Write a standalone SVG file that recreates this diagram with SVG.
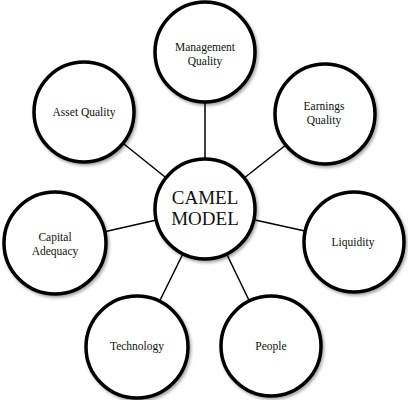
<svg xmlns="http://www.w3.org/2000/svg" width="408" height="400" viewBox="0 0 408 400">
<style>
.n{fill:#fff;stroke:#000;stroke-width:3.5;filter:url(#sh)}
.t{font-family:"Liberation Serif","DejaVu Serif",serif;font-size:11.5px;fill:#111;text-anchor:middle}
.big{font-size:19px}
.c{stroke:#000;stroke-width:1.5}
</style>
<defs>
<filter id="sh" x="-20%" y="-20%" width="140%" height="140%">
<feDropShadow dx="1.5" dy="2" stdDeviation="1.5" flood-color="#000" flood-opacity="0.35"/>
</filter>
</defs>
<rect width="408" height="400" fill="#fff"/>
<g id="connectors">
<line class="c" x1="205" y1="209" x2="205" y2="52"/>
<line class="c" x1="205" y1="209" x2="84" y2="112"/>
<line class="c" x1="205" y1="209" x2="325" y2="114"/>
<line class="c" x1="205" y1="209" x2="55" y2="243"/>
<line class="c" x1="205" y1="209" x2="355" y2="242"/>
<line class="c" x1="205" y1="209" x2="137" y2="347"/>
<line class="c" x1="205" y1="209" x2="271" y2="346"/>
</g>
<g id="management">
<circle class="n" cx="205" cy="52" r="50"/>
<text class="t" x="205" y="51">Management</text>
<text class="t" x="205" y="65">Quality</text>
</g>
<g id="asset">
<circle class="n" cx="84" cy="112" r="50"/>
<text class="t" x="84" y="116">Asset Quality</text>
</g>
<g id="earnings">
<circle class="n" cx="325" cy="114" r="50"/>
<text class="t" x="324" y="110">Earnings</text>
<text class="t" x="324" y="124">Quality</text>
</g>
<g id="camel">
<circle class="n" cx="205" cy="209" r="50"/>
<text class="t big" x="205" y="204">CAMEL</text>
<text class="t big" x="205" y="225">MODEL</text>
</g>
<g id="capital">
<circle class="n" cx="55" cy="243" r="51"/>
<text class="t" x="55" y="241">Capital</text>
<text class="t" x="55" y="255">Adequacy</text>
</g>
<g id="liquidity">
<circle class="n" cx="354" cy="242" r="50"/>
<text class="t" x="353" y="246">Liquidity</text>
</g>
<g id="technology">
<circle class="n" cx="137" cy="347" r="51"/>
<text class="t" x="137" y="350">Technology</text>
</g>
<g id="people">
<circle class="n" cx="271" cy="346" r="50"/>
<text class="t" x="271" y="350">People</text>
</g>
</svg>
